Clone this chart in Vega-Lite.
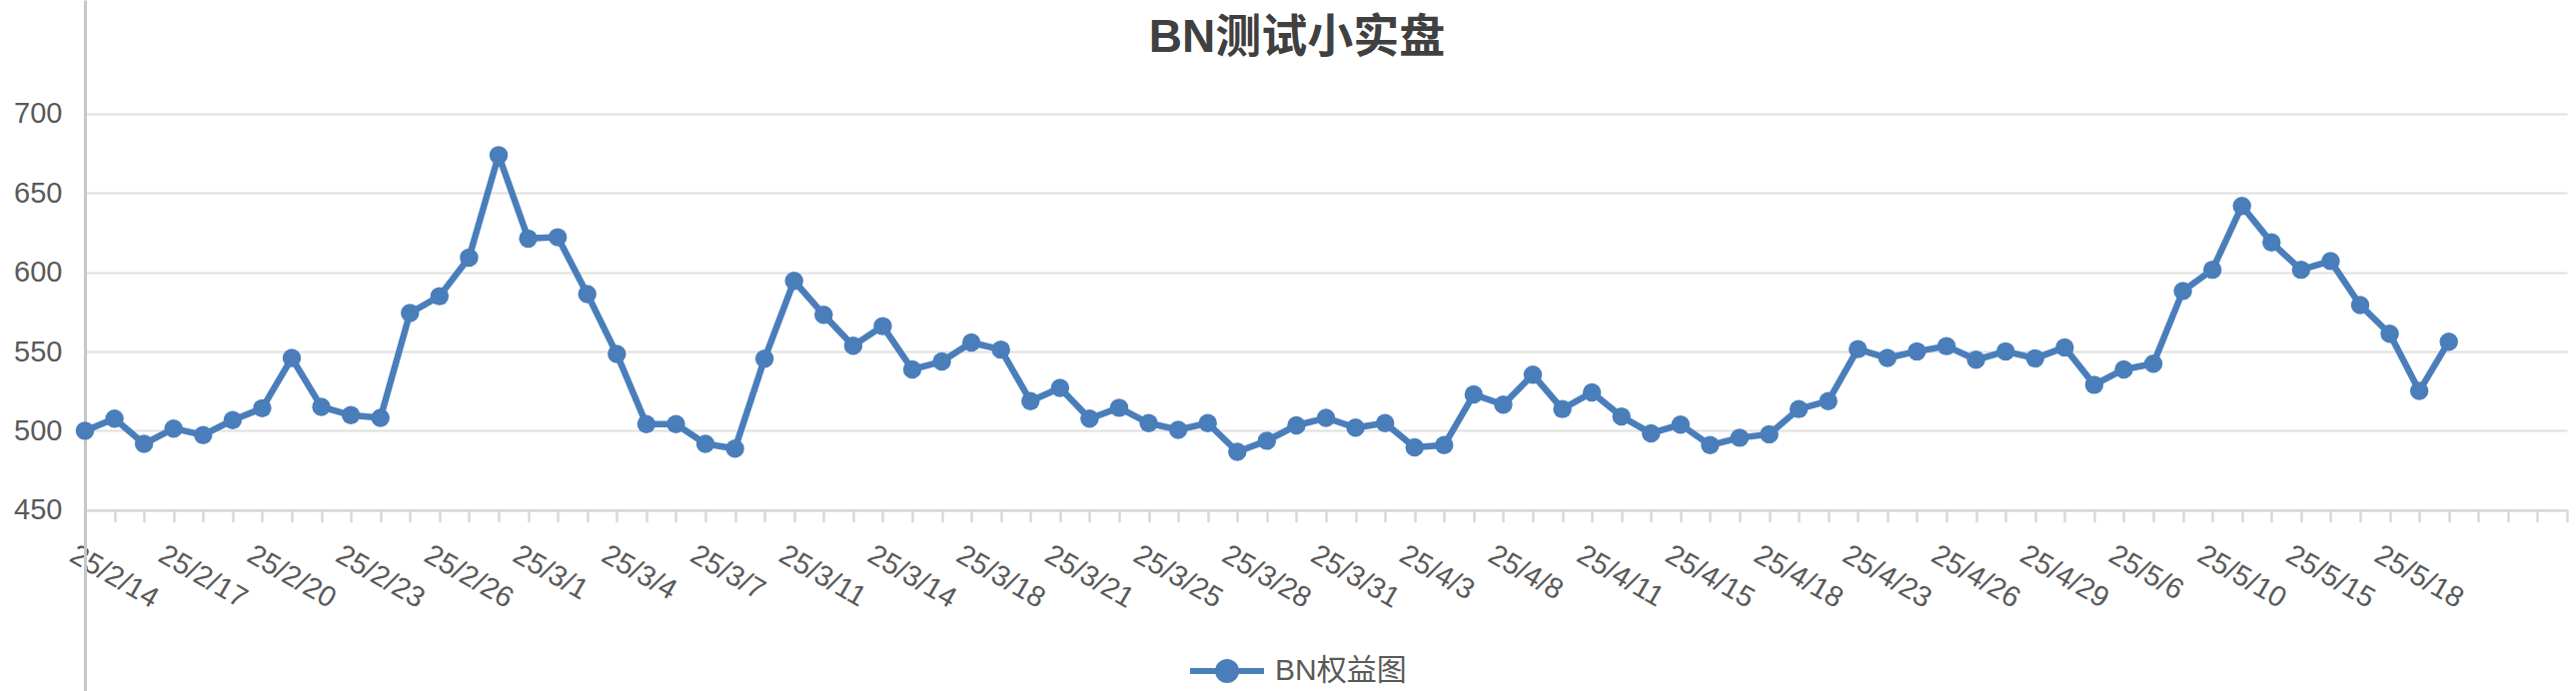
{
  "$schema": "https://vega.github.io/schema/vega-lite/v6.json",
  "autosize": {"type": "none"},
  "padding": {"left": 85, "top": 0, "right": 9, "bottom": 0},
  "width": 2484,
  "height": 692,
  "background": "white",
  "title": {
    "text": "BN测试小实盘",
    "fontSize": 46,
    "font": "Liberation Sans, Noto Sans CJK SC",
    "fontWeight": "bold",
    "color": "#404040",
    "anchor": "middle",
    "frame": "group",
    "offset": -62,
    "dx": -29
  },
  "data": {
    "values": [
      {"d": "25/2/14", "v": 500.0}, {"d": "25/2/15", "v": 507.6}, {"d": "25/2/16", "v": 491.7},
      {"d": "25/2/17", "v": 501.4}, {"d": "25/2/18", "v": 497.3}, {"d": "25/2/19", "v": 506.7},
      {"d": "25/2/20", "v": 514.2}, {"d": "25/2/21", "v": 545.9}, {"d": "25/2/22", "v": 515.1},
      {"d": "25/2/23", "v": 509.8}, {"d": "25/2/24", "v": 508.1}, {"d": "25/2/25", "v": 574.3},
      {"d": "25/2/26", "v": 584.9}, {"d": "25/2/27", "v": 609.3}, {"d": "25/2/28", "v": 673.9},
      {"d": "25/3/1", "v": 621.3}, {"d": "25/3/2", "v": 622.1}, {"d": "25/3/3", "v": 586.3},
      {"d": "25/3/4", "v": 548.4}, {"d": "25/3/5", "v": 504.2}, {"d": "25/3/6", "v": 504.2},
      {"d": "25/3/7", "v": 491.7}, {"d": "25/3/9", "v": 488.7}, {"d": "25/3/10", "v": 545.4},
      {"d": "25/3/11", "v": 594.6}, {"d": "25/3/12", "v": 573.2}, {"d": "25/3/13", "v": 553.7},
      {"d": "25/3/14", "v": 566.0}, {"d": "25/3/16", "v": 538.7}, {"d": "25/3/17", "v": 543.7},
      {"d": "25/3/18", "v": 555.7}, {"d": "25/3/19", "v": 551.2}, {"d": "25/3/20", "v": 518.7},
      {"d": "25/3/21", "v": 527.0}, {"d": "25/3/23", "v": 507.6}, {"d": "25/3/24", "v": 514.5},
      {"d": "25/3/25", "v": 504.8}, {"d": "25/3/26", "v": 500.6}, {"d": "25/3/27", "v": 504.8},
      {"d": "25/3/28", "v": 486.7}, {"d": "25/3/29", "v": 493.7}, {"d": "25/3/30", "v": 503.4},
      {"d": "25/3/31", "v": 508.1}, {"d": "25/4/1", "v": 502.0}, {"d": "25/4/2", "v": 504.8},
      {"d": "25/4/3", "v": 489.5}, {"d": "25/4/6", "v": 490.9}, {"d": "25/4/7", "v": 522.9},
      {"d": "25/4/8", "v": 516.5}, {"d": "25/4/9", "v": 535.4}, {"d": "25/4/10", "v": 513.7},
      {"d": "25/4/11", "v": 524.2}, {"d": "25/4/13", "v": 509.0}, {"d": "25/4/14", "v": 498.4},
      {"d": "25/4/15", "v": 503.9}, {"d": "25/4/16", "v": 490.9}, {"d": "25/4/17", "v": 495.6},
      {"d": "25/4/18", "v": 497.8}, {"d": "25/4/21", "v": 513.7}, {"d": "25/4/22", "v": 518.7},
      {"d": "25/4/23", "v": 551.5}, {"d": "25/4/24", "v": 545.9}, {"d": "25/4/25", "v": 550.1},
      {"d": "25/4/26", "v": 553.4}, {"d": "25/4/27", "v": 544.8}, {"d": "25/4/28", "v": 550.1},
      {"d": "25/4/29", "v": 545.7}, {"d": "25/5/3", "v": 552.6}, {"d": "25/5/5", "v": 529.0},
      {"d": "25/5/6", "v": 538.7}, {"d": "25/5/8", "v": 542.3}, {"d": "25/5/9", "v": 588.2},
      {"d": "25/5/10", "v": 601.6}, {"d": "25/5/12", "v": 641.9}, {"d": "25/5/14", "v": 618.8},
      {"d": "25/5/15", "v": 601.6}, {"d": "25/5/16", "v": 607.1}, {"d": "25/5/17", "v": 579.3},
      {"d": "25/5/18", "v": 561.2}, {"d": "25/5/19", "v": 525.1}, {"d": "25/5/20", "v": 556.2}
    ]
  },
  "encoding": {
    "y": {
      "field": "v",
      "type": "quantitative",
      "scale": {"domain": [335.8, 771.8], "nice": false, "zero": false},
      "axis": {
        "title": null,
        "values": [450, 500, 550, 600, 650, 700],
        "ticks": false,
        "labelPadding": 23,
        "labelFont": "Liberation Sans",
        "labelFontSize": 29,
        "labelColor": "#595959",
        "domainColor": "#c8c8c8",
        "domainWidth": 3,
        "gridColor": "#e0e0e0",
        "gridWidth": 2
      }
    },
    "color": {
      "datum": "BN权益图",
      "scale": {"range": ["#4a7ebb"]},
      "legend": {
        "title": null,
        "orient": "none",
        "legendX": 1103,
        "legendY": 632,
        "padding": 0,
        "symbolType": "M-1,0L1,0M-0.243,0A0.243,0.243,0,1,0,0.243,0A0.243,0.243,0,1,0,-0.243,0",
        "symbolSize": 5476,
        "symbolStrokeWidth": 6,
        "symbolFillColor": "#4a7ebb",
        "symbolStrokeColor": "#4a7ebb",
        "labelFont": "Liberation Sans, Noto Sans CJK SC",
        "labelFontSize": 30,
        "labelColor": "#595959",
        "labelOffset": 8
      }
    }
  },
  "layer": [
    {
      "mark": {"type": "line", "strokeWidth": 6.5, "strokeJoin": "round"},
      "encoding": {
        "x": {
          "field": "d",
          "type": "ordinal",
          "scale": {
            "type": "point",
            "padding": 0,
            "domain": [
              "25/2/14", "25/2/15", "25/2/16", "25/2/17", "25/2/18", "25/2/19", "25/2/20", "25/2/21", "25/2/22",
              "25/2/23", "25/2/24", "25/2/25", "25/2/26", "25/2/27", "25/2/28", "25/3/1", "25/3/2", "25/3/3",
              "25/3/4", "25/3/5", "25/3/6", "25/3/7", "25/3/9", "25/3/10", "25/3/11", "25/3/12", "25/3/13",
              "25/3/14", "25/3/16", "25/3/17", "25/3/18", "25/3/19", "25/3/20", "25/3/21", "25/3/23", "25/3/24",
              "25/3/25", "25/3/26", "25/3/27", "25/3/28", "25/3/29", "25/3/30", "25/3/31", "25/4/1", "25/4/2",
              "25/4/3", "25/4/6", "25/4/7", "25/4/8", "25/4/9", "25/4/10", "25/4/11", "25/4/13", "25/4/14",
              "25/4/15", "25/4/16", "25/4/17", "25/4/18", "25/4/21", "25/4/22", "25/4/23", "25/4/24", "25/4/25",
              "25/4/26", "25/4/27", "25/4/28", "25/4/29", "25/5/3", "25/5/5", "25/5/6", "25/5/8", "25/5/9",
              "25/5/10", "25/5/12", "25/5/14", "25/5/15", "25/5/16", "25/5/17", "25/5/18", "25/5/19", "25/5/20",
              " ", "  ", "   ", "    "
            ]
          },
          "axis": {
            "orient": "bottom",
            "title": null,
            "offset": -181.3,
            "grid": false,
            "labels": false,
            "tickSize": 12,
            "tickWidth": 2.5,
            "tickColor": "#d9d9d9",
            "domainColor": "#d9d9d9",
            "domainWidth": 2.5
          }
        }
      }
    },
    {
      "mark": {"type": "point", "filled": true, "size": 340, "opacity": 1},
      "encoding": {
        "x": {
          "field": "d",
          "type": "ordinal",
          "axis": {
            "orient": "bottom",
            "title": null,
            "offset": -181.3,
            "grid": false,
            "domain": false,
            "values": [
              "25/2/14", "25/2/17", "25/2/20", "25/2/23", "25/2/26", "25/3/1", "25/3/4", "25/3/7", "25/3/11",
              "25/3/14", "25/3/18", "25/3/21", "25/3/25", "25/3/28", "25/3/31", "25/4/3", "25/4/8", "25/4/11",
              "25/4/15", "25/4/18", "25/4/23", "25/4/26", "25/4/29", "25/5/6", "25/5/10", "25/5/15", "25/5/18"
            ],
            "ticks": true,
            "tickSize": 12,
            "tickOpacity": 0,
            "labelAngle": 30,
            "labelAlign": "left",
            "labelBaseline": "top",
            "labelOffset": -6,
            "labelPadding": 18,
            "labelFont": "Liberation Sans",
            "labelFontSize": 29,
            "labelColor": "#595959",
            "labelOverlap": false,
            "labelBound": false
          }
        }
      }
    }
  ],
  "resolve": {"axis": {"x": "independent"}},
  "config": {
    "view": {"stroke": null},
    "font": "Liberation Sans, Noto Sans CJK SC"
  }
}
